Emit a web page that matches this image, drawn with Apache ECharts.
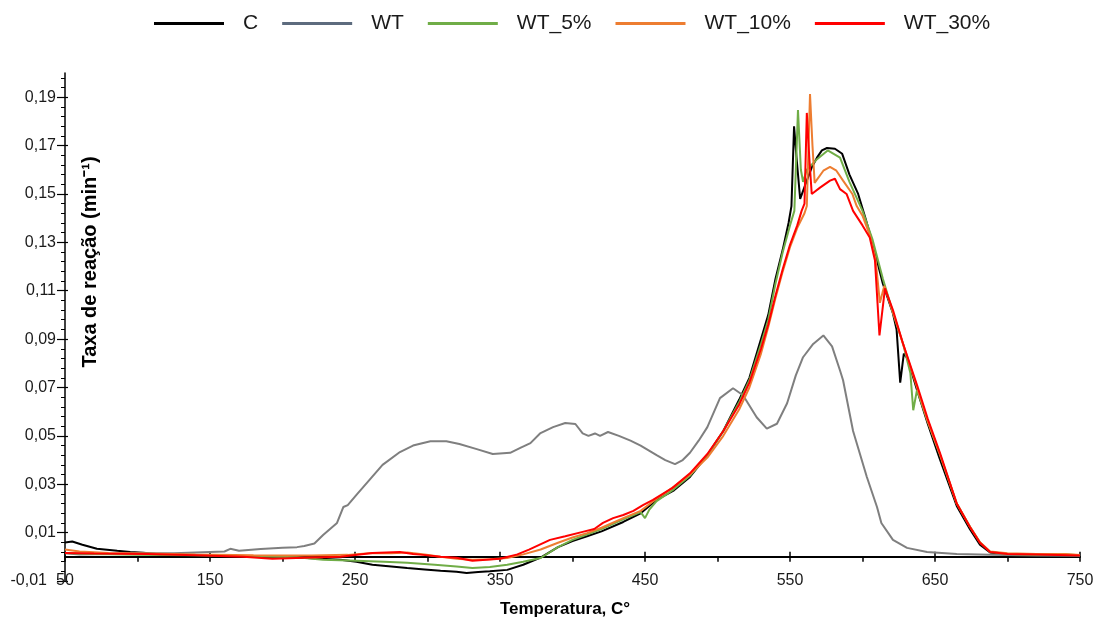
<!DOCTYPE html>
<html>
<head>
<meta charset="utf-8">
<script src="https://cdn.jsdelivr.net/npm/echarts@6/dist/echarts.min.js"></script>
<style>html,body{margin:0;padding:0;background:#fff}#chart{width:1095px;height:619px}</style>
</head>
<body>
<div id="chart"></div>
<script>
// ---- data (temperature °C, reaction rate min^-1) ----
const seriesNames = ['C', 'WT', 'WT_5%', 'WT_10%', 'WT_30%'];
const xTickLabels = [50, 150, 250, 350, 450, 550, 650, 750];
const xMinorTicks = [100, 200, 300, 400, 500, 600, 700];
const yTickLabels = [-0.01, 0.01, 0.03, 0.05, 0.07, 0.09, 0.11, 0.13, 0.15, 0.17, 0.19];

const dataC = [[50,0.0059],[55,0.0063],[62,0.005],[72,0.0033],[86,0.0025],[95,0.002],[104,0.0017],[113,0.0012],[124,0.0003],[150,0.0002],[180,0],[217,-0.0005],[240,-0.0012],[251,-0.002],[262,-0.0033],[275,-0.004],[286,-0.0046],[298,-0.0052],[309,-0.0058],[320,-0.0062],[327,-0.0067],[335,-0.0063],[343,-0.006],[355,-0.0054],[366,-0.0033],[378,-0.0003],[390,0.004],[400,0.0065],[410,0.0085],[420,0.0105],[435,0.0144],[447,0.018],[458,0.0235],[470,0.0275],[481,0.033],[493,0.042],[504,0.052],[515,0.065],[522,0.074],[530,0.09],[535,0.1],[540,0.115],[545,0.127],[549,0.138],[551,0.145],[552.8,0.178],[554.5,0.165],[557,0.148],[561.6,0.1555],[565,0.161],[568.6,0.165],[572,0.168],[575.5,0.169],[581,0.1687],[586,0.1666],[591,0.158],[597,0.15],[602,0.14],[607,0.1295],[614,0.113],[621,0.1006],[623.5,0.094],[626,0.072],[628.5,0.084],[631,0.082],[637.6,0.069],[645,0.055],[653,0.041],[665,0.021],[674,0.0115],[681,0.005],[688,0.0018],[700,0.001],[720,0.0005],[750,0.0003]];

const dataWT = [[50,0.0015],[60,0.001],[80,0.0012],[100,0.0015],[125,0.0015],[150,0.002],[160,0.0022],[164,0.0033],[170,0.0025],[185,0.0032],[200,0.0037],[210,0.004],[215,0.0045],[222,0.0055],[228,0.009],[237.6,0.014],[242,0.0206],[245,0.0214],[251,0.0256],[260,0.0318],[269,0.038],[281,0.0433],[290,0.046],[302,0.0478],[313,0.0478],[322,0.0466],[334,0.0445],[345,0.0425],[357,0.043],[364,0.045],[371,0.047],[377.6,0.051],[386.6,0.0536],[395,0.0553],[402,0.0549],[407,0.051],[411,0.05],[415.5,0.051],[419,0.05],[424.5,0.0516],[432,0.05],[440,0.048],[447,0.046],[458,0.042],[464,0.04],[470.7,0.0383],[476,0.04],[481,0.043],[487,0.048],[493,0.0536],[501.7,0.0656],[510.7,0.0697],[517.6,0.0668],[527,0.0577],[534,0.053],[541,0.055],[548,0.0635],[554,0.075],[559,0.0825],[566,0.088],[573,0.0915],[579,0.087],[584.5,0.077],[586.6,0.073],[593.5,0.052],[603,0.033],[610,0.0206],[613,0.014],[621,0.007],[630.7,0.0037],[644.5,0.002],[665,0.0012],[688,0.0008],[720,0.0005],[750,0.0004]];

const dataWT5 = [[50,0.0016],[70,0.0012],[100,0.0008],[140,0.0006],[180,0.0002],[210,-0.0002],[228,-0.0012],[251,-0.0016],[270,-0.002],[286,-0.0025],[305,-0.0033],[320,-0.004],[331,-0.0046],[343,-0.0042],[355,-0.0033],[366,-0.002],[378,-0.0005],[390,0.004],[400,0.007],[410,0.0092],[420,0.0115],[435,0.0155],[447,0.0185],[450,0.016],[453,0.0195],[458,0.023],[470,0.028],[481,0.0335],[493,0.042],[504,0.052],[515,0.064],[522,0.073],[530,0.088],[535,0.098],[540,0.113],[545,0.126],[550,0.137],[553,0.143],[555.5,0.1847],[557.5,0.16],[559,0.155],[561.6,0.16],[568,0.164],[576,0.168],[584.5,0.165],[591,0.155],[600,0.143],[607,0.131],[614,0.115],[621,0.101],[628,0.088],[633,0.076],[635,0.0606],[637.6,0.069],[645,0.056],[653,0.043],[665,0.022],[674,0.0125],[681,0.006],[688,0.002],[700,0.0012],[720,0.0008],[735,0.0012],[750,0.0006]];

const dataWT10 = [[50,0.003],[60,0.0022],[80,0.0016],[107,0.0014],[140,0.001],[180,0.0006],[220,0.0005],[245,0.0008],[262,0.0016],[275,0.0015],[286,0.0018],[298,0.001],[309,0],[320,-0.0008],[331,-0.0012],[343,-0.001],[355,-0.0005],[366,0.001],[378,0.003],[390,0.0058],[400,0.008],[410,0.0098],[420,0.012],[435,0.016],[447,0.019],[458,0.024],[470,0.029],[481,0.034],[493,0.041],[504,0.05],[515,0.061],[522,0.07],[530,0.084],[535,0.095],[540,0.107],[545,0.118],[550,0.128],[555,0.136],[560,0.142],[561.6,0.145],[563.8,0.1913],[565.5,0.17],[567,0.1546],[573,0.1596],[577.6,0.1612],[582,0.1596],[586.6,0.1555],[593,0.15],[596,0.145],[600,0.141],[605,0.133],[609,0.123],[612,0.105],[615,0.112],[621,0.101],[628,0.088],[637.6,0.07],[645,0.056],[653,0.043],[665,0.022],[674,0.0125],[681,0.006],[688,0.0022],[700,0.0015],[720,0.0012],[740,0.0012],[750,0.0008]];

const dataWT30 = [[50,0.0016],[70,0.0014],[107,0.0012],[140,0.0006],[173,0],[193,-0.0008],[215,-0.0004],[240,0],[262,0.0016],[281,0.002],[290,0.0012],[297,0.0008],[309,0],[320,-0.0004],[331,-0.0016],[350,-0.0008],[362,0.001],[370,0.003],[384.5,0.007],[395,0.0085],[407,0.0103],[415,0.0115],[421,0.014],[428,0.016],[435,0.0173],[442,0.019],[448.6,0.0214],[455.5,0.0235],[469,0.0285],[481,0.0345],[493,0.0425],[504,0.052],[515,0.063],[522,0.072],[530,0.086],[535,0.096],[540,0.108],[545,0.119],[550,0.129],[555,0.137],[558,0.143],[560,0.146],[561.6,0.1835],[563.3,0.165],[565,0.15],[570.7,0.1526],[577.6,0.1555],[581,0.1563],[584.5,0.152],[589,0.15],[593.5,0.143],[600,0.137],[605,0.132],[608.6,0.1225],[611.7,0.0915],[615.5,0.111],[621,0.102],[628,0.088],[637.6,0.071],[645,0.057],[653.4,0.043],[665,0.022],[674,0.0124],[681,0.0058],[688,0.002],[700,0.0012],[720,0.001],[750,0.0005]];

const seriesData = [dataC, dataWT, dataWT5, dataWT10, dataWT30];
const colors = ['#000000', '#7f7f7f', '#70ad47', '#ed7d31', '#ff0000'];

// minor y ticks: 4 between each pair of labelled ticks
const yMinorTicks = [];
for (let i = 0; i < yTickLabels.length; i++) {
  for (let k = 1; k <= 4; k++) {
    const v = +(yTickLabels[i] + k * 0.004).toFixed(4);
    if (v <= 0.2) yMinorTicks.push(v);
  }
}

const FONT = 'Liberation Sans, Arial, sans-serif';
const chart = echarts.init(document.getElementById('chart'), null, {renderer: 'canvas'});

const baseX = {type: 'value', min: 50, max: 750, gridIndex: 0, position: 'bottom', splitLine: {show: false}};
const baseY = {type: 'value', min: -0.01, max: 0.2, gridIndex: 0, position: 'left', splitLine: {show: false}};

chart.setOption({
  animation: false,
  backgroundColor: '#ffffff',
  color: colors,
  legend: {
    top: 8, left: 149,
    itemWidth: 70, itemHeight: 3, itemGap: 24,
    icon: 'rect',
    textStyle: {fontFamily: FONT, fontSize: 21, color: '#1a1a1a', padding: [0, 0, 0, 14]},
    data: seriesNames.map((n, i) => i === 1 ? {name: n, itemStyle: {color: '#5d6b7e'}} : {name: n})
  },
  grid: {left: 65, right: 15, top: 73, bottom: 38, outerBoundsMode: 'none'},
  xAxis: [
    Object.assign({}, baseX, {
      axisLine: {show: false, onZero: false}, axisTick: {show: false},
      axisLabel: {customValues: xTickLabels, margin: -8, fontFamily: FONT, fontSize: 16, color: '#1a1a1a'}
    }),
    Object.assign({}, baseX, {
      axisLine: {show: true, onZero: true, onZeroAxisIndex: 0, lineStyle: {color: '#000', width: 2}},
      axisTick: {show: true, inside: false, length: 5, customValues: xTickLabels.concat(xMinorTicks), lineStyle: {color: '#000', width: 1.5}},
      axisLabel: {show: false}
    }),
    Object.assign({}, baseX, {
      axisLine: {show: true, onZero: true, onZeroAxisIndex: 0, lineStyle: {opacity: 0}},
      axisTick: {show: true, inside: true, length: 5, customValues: xTickLabels, lineStyle: {color: '#000', width: 1.5}},
      axisLabel: {show: false}
    })
  ],
  yAxis: [
    Object.assign({}, baseY, {
      axisLine: {show: true, onZero: false, lineStyle: {color: '#000', width: 1.5}},
      axisTick: {show: true, inside: false, length: 8, customValues: yTickLabels, lineStyle: {color: '#000', width: 1.2}},
      axisLabel: {customValues: yTickLabels, margin: 9, fontFamily: FONT, fontSize: 16, color: '#1a1a1a',
        formatter: v => {
          const s = v.toFixed(2).replace('.', ',');
          return v < 0 ? '{m|' + s + '}' : s;
        },
        rich: {m: {fontFamily: FONT, fontSize: 16, color: '#1a1a1a', padding: [0, 9, 0, 0]}}
      }
    }),
    Object.assign({}, baseY, {
      axisLine: {show: false, onZero: false},
      axisTick: {show: true, inside: false, length: 4, customValues: yMinorTicks, lineStyle: {color: '#000', width: 1}},
      axisLabel: {show: false}
    }),
    Object.assign({}, baseY, {
      axisLine: {show: false, onZero: false},
      axisTick: {show: true, inside: true, length: 3, customValues: yTickLabels, lineStyle: {color: '#000', width: 1.2}},
      axisLabel: {show: false}
    })
  ],
  series: seriesNames.map((n, i) => ({
    name: n, type: 'line', xAxisIndex: 0, yAxisIndex: 0,
    data: seriesData[i], showSymbol: false, symbol: 'none', smooth: false,
    lineStyle: {width: 2, color: colors[i]}, itemStyle: {color: colors[i]}
  })),
  graphic: [
    {type: 'text', x: 565, y: 609, style: {text: 'Temperatura, C°', font: 'bold 17px ' + FONT, fill: '#000', align: 'center', verticalAlign: 'middle'}},
    {type: 'text', x: 90, y: 262, rotation: Math.PI / 2, style: {text: 'Taxa de reação (min⁻¹)', font: 'bold 20px ' + FONT, fill: '#000', align: 'center', verticalAlign: 'middle'}}
  ]
});
</script>
</body>
</html>
